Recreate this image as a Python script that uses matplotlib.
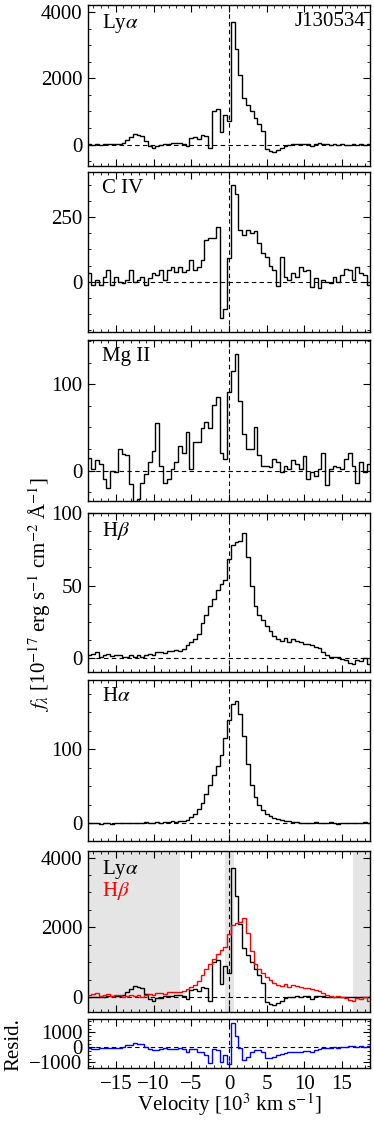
import matplotlib
matplotlib.use("Agg")
import matplotlib.pyplot as plt
from matplotlib.ticker import MultipleLocator, AutoMinorLocator
import numpy as np

plt.rcParams.update({
    "font.family": ["Liberation Serif", "DejaVu Serif"],
    "mathtext.fontset": "stix",
    "font.size": 15,
    "axes.linewidth": 1.0,
    "xtick.direction": "in", "ytick.direction": "in",
    "xtick.top": True, "ytick.right": True,
    "xtick.major.size": 5, "ytick.major.size": 5,
    "xtick.minor.size": 2.5, "ytick.minor.size": 2.5,
    "xtick.major.pad": 5, "ytick.major.pad": 4,
})

# velocity grid, 10^3 km/s
vel = [-18.5, -18.0, -17.5, -17.0, -16.5, -16.0, -15.5, -15.0, -14.5, -14.0,
       -13.5, -13.0, -12.5, -12.0, -11.5, -11.0, -10.5, -10.0, -9.5, -9.0,
       -8.5, -8.0, -7.5, -7.0, -6.5, -6.0, -5.5, -5.0, -4.5, -4.0,
       -3.5, -3.0, -2.5, -2.0, -1.5, -1.0, -0.5, 0.0, 0.5, 1.0,
       1.5, 2.0, 2.5, 3.0, 3.5, 4.0, 4.5, 5.0, 5.5, 6.0,
       6.5, 7.0, 7.5, 8.0, 8.5, 9.0, 9.5, 10.0, 10.5, 11.0,
       11.5, 12.0, 12.5, 13.0, 13.5, 14.0, 14.5, 15.0, 15.5, 16.0,
       16.5, 17.0, 17.5, 18.0, 18.5]

lya = [10, 0, 5, -5, 10, 20, 15, 25, 20, 60,
       150, 230, 310, 290, 250, 100, -60, -110, -40, -20,
       30, 20, 40, 50, 60, 30, -60, 200, 230, 160,
       300, 270, -100, 1000, 1060, 380, 900, 700, 3700, 2900,
       2100, 1400, 1200, 1000, 800, 620, 400, -150, -210, -220,
       -180, -100, -40, 0, 10, 20, 10, 20, 30, -60,
       20, 40, 30, 10, 0, 10, 0, 5, -5, 0,
       5, 0, 5, 0, 5]

civ = [32, -13, 6, -13, 19, 45, -13, 17, 0, -6,
       6, 45, 0, 6, 19, -13, 13, 32, 26, 45,
       6, 45, 58, 39, 58, 39, 45, 84, 45, 58,
       84, 162, 168, 170, 210, -140, -105, 90, 375, 340,
       200, 180, 200, 190, 195, 150, 110, 95, 60, 45,
       -15, 97, 20, 6, 32, 19, 58, 40, 45, -19,
       13, -26, 6, 0, -6, 19, 0, 25, 50, 45,
       6, 58, 35, 25, -13]

mgii = [15, 2, 12, 8, -10, -20, 0, -2, 25, 19,
        18, -15, -37, -33, -14, -4, 10, 23, 55, 6,
        -14, -10, 2, 10, 29, 21, 45, 2, 33, 33,
        49, 56, 49, 76, 85, 21, 14, 91, 115, 135,
        80, 42, 25, 25, 50, 18, 6, 6, 4, 14,
        10, -2, 6, 2, 12, 8, 2, 17, -10, -2,
        -6, 2, 21, -17, 2, 6, 4, 2, 14, 21,
        6, -14, 10, -2, 8]

hb = [2, 3, 4, 1, 2, 3, 1.5, 2, 2.5, 0.5,
      1, 2, 1, 2, 0.5, 2.5, 3, 2, 4, 4.5,
      3.5, 5, 5, 5.5, 5, 6, 9, 11, 13, 17,
      24, 30, 36, 41, 47, 51, 54, 68, 78, 80,
      81, 86, 70, 50, 36, 30, 26, 22, 19, 15,
      13, 12, 14, 11, 13, 12, 11, 10, 10, 9,
      8, 7, 4, 2, 1, 0.5, 1, -0.5, -1, -3,
      -4, -1, -2, 0, -4]

ha = [0.5, 0, 0.5, -0.5, 0, 0.5, -1, 0, 0.5, 0,
      0, 0.5, 1, 0.5, 1, 1.5, 1, 1, 1.5, 1,
      1.5, 2, 2.5, 2, 2.5, 3, 5, 8, 13, 19,
      28, 40, 52, 66, 77, 92, 115, 140, 162, 165,
      148, 118, 80, 52, 36, 25, 18, 13, 10, 7.5,
      6, 4.5, 3.5, 2.5, 2, 1.5, 1, 0.5, 1, 0.5,
      1.5, 0.5, 0, 0.5, 1.5, 0, -0.5, 0, 0.5, 0,
      1, 0.5, 1, 1.5, 1]

HB_SCALE = 26.4                     # Hbeta scaled onto Lya
masked = [(-18.7, -6.5), (-0.5, 0.7), (16.5, 18.7)]

v = np.array(vel)
edges = np.append(v - 0.25, v[-1] + 0.25)
hb_scaled = HB_SCALE * np.array(hb)
resid = np.array(lya) - hb_scaled

W, H = 374, 1121
def box(top, bottom):
    return [88 / W, 1 - bottom / H, 282 / W, (bottom - top) / H]

fig = plt.figure(figsize=(W / 100, H / 100), dpi=100)

panels = [
    ("Ly$\\alpha$", lya, (-650, 4220), 2000, (5, 166)),
    ("C IV", civ, (-195, 425), 250, (172, 332)),
    ("Mg II", mgii, (-35, 151), 100, (340, 501)),
    ("H$\\beta$", hb, (-9.5, 100), 50, (513, 672)),
    ("H$\\alpha$", ha, (-24, 194), 100, (680, 841)),
]

def style(ax, major, ylim):
    ax.set_xlim(-18.7, 18.7)
    ax.set_ylim(*ylim)
    ax.xaxis.set_major_locator(MultipleLocator(5))
    ax.xaxis.set_minor_locator(MultipleLocator(1))
    ax.yaxis.set_major_locator(MultipleLocator(major))
    ax.yaxis.set_minor_locator(AutoMinorLocator(4))
    ax.tick_params(which="both", top=True, right=True)
    ax.axhline(0, color="k", lw=0.8, ls=(0, (4, 3)), zorder=1)
    ax.axvline(0, color="k", lw=0.8, ls=(0, (4, 3)), zorder=1)

for label, flux, ylim, major, (top, bot) in panels:
    ax = fig.add_axes(box(top, bot))
    ax.stairs(flux, edges, baseline=None, color="k", lw=1.0, zorder=3)
    style(ax, major, ylim)
    ax.tick_params(labelbottom=False)
    ax.text(0.05, 0.955, label, transform=ax.transAxes, ha="left", va="top")
    if label.startswith("Ly"):
        ax.text(0.985, 0.955, "J130534", transform=ax.transAxes,
                ha="right", va="top")

# Lya vs scaled Hbeta
ax6 = fig.add_axes(box(851, 1012))
for lo, hi in masked:
    ax6.axvspan(lo, hi, color="#e5e5e5", lw=0, zorder=0)
ax6.stairs(lya, edges, baseline=None, color="k", lw=1.0, zorder=3)
ax6.stairs(hb_scaled, edges, baseline=None, color="red", lw=1.0, zorder=3)
style(ax6, 2000, (-430, 4190))
ax6.tick_params(labelbottom=False)
ax6.text(0.05, 0.955, "Ly$\\alpha$", transform=ax6.transAxes, ha="left", va="top")
ax6.text(0.05, 0.82, "H$\\beta$", color="red", transform=ax6.transAxes,
         ha="left", va="top")

# residual
axr = fig.add_axes(box(1019, 1068))
axr.stairs(resid, edges, baseline=None, color="blue", lw=1.0, zorder=3)
style(axr, 1000, (-1380, 1890))

fig.text(40 / W, 1 - 595 / H,
         "$f_\\lambda$ [10$^{-17}$ erg s$^{-1}$ cm$^{-2}$ Å$^{-1}$]",
         rotation=90, ha="center", va="center")
fig.text(14 / W, 1 - 1045 / H, "Resid.", rotation=90, ha="center", va="center")
fig.text(229 / W, 1 - 1105 / H, "Velocity [10$^3$ km s$^{-1}$]",
         ha="center", va="center")

fig.savefig("out.png", dpi=100)
